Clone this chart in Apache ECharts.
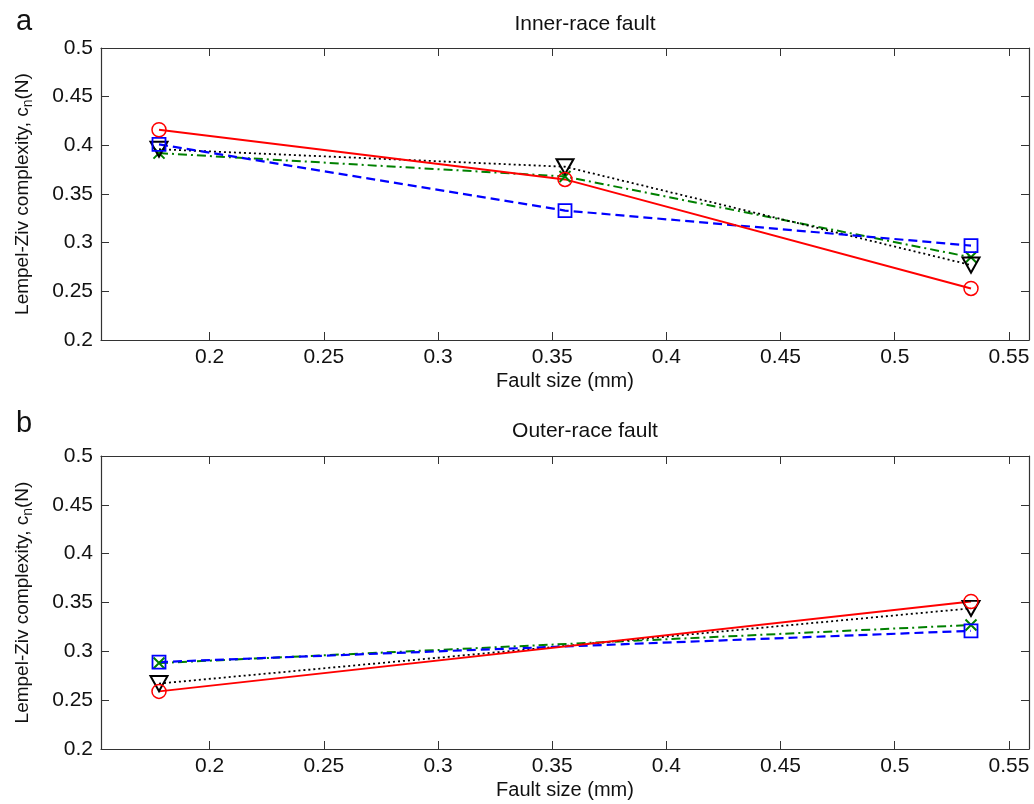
<!DOCTYPE html>
<html>
<head>
<meta charset="utf-8">
<script src="https://cdn.jsdelivr.net/npm/echarts@6/dist/echarts.min.js"></script>
<style>
  html, body { margin: 0; padding: 0; background: #fff; }
  #chart { width: 1034px; height: 804px; }
</style>
</head>
<body>
<div id="chart"></div>
<script>
// fault sizes (mm) and complexity values
const innerSizes = [0.1778, 0.3556, 0.5334]
const innerCircle = [0.416, 0.365, 0.253]
const innerSquare = [0.401, 0.333, 0.297]
const innerTriangle = [0.396, 0.378, 0.277]
const innerCross = [0.392, 0.368, 0.285]

const outerSizes = [0.1778, 0.5334]
const outerCircle = [0.259, 0.351]
const outerSquare = [0.289, 0.321]
const outerTriangle = [0.267, 0.344]
const outerCross = [0.288, 0.327]

const xTicks = [0.2, 0.25, 0.3, 0.35, 0.4, 0.45, 0.5, 0.55]
const titles = ['Inner-race fault', 'Outer-race fault']
const panelLetters = ['a', 'b']

const FONT = 'Liberation Sans, Arial, sans-serif'
const AXIS_COLOR = '#333'

const chart = echarts.init(document.getElementById('chart'))

const pair = (xs, ys) => xs.map((x, i) => [x, ys[i]])

const grids = [
  { left: 101, top: 48, width: 928, height: 292 },
  { left: 101, top: 456, width: 928, height: 293 }
]

const xAxes = []
const yAxes = []
grids.forEach((g, gi) => {
  const base = {
    gridIndex: gi,
    type: 'value',
    min: 0.1524,
    max: 0.5588,
    axisLine: { show: true, lineStyle: { color: AXIS_COLOR, width: 1.2 } },
    axisTick: { show: true, inside: true, length: 8, customValues: xTicks, lineStyle: { color: AXIS_COLOR } },
    splitLine: { show: false }
  }
  xAxes.push(Object.assign({}, base, {
    position: 'bottom',
    name: 'Fault size (mm)',
    nameLocation: 'middle',
    nameGap: 31,
    nameTextStyle: { fontFamily: FONT, fontSize: 20, color: '#111' },
    axisLabel: { customValues: xTicks, margin: 7, fontFamily: FONT, fontSize: 21, color: '#111' }
  }))
  xAxes.push(Object.assign({}, base, {
    position: 'top',
    axisLabel: { show: false }
  }))
  const ybase = {
    gridIndex: gi,
    type: 'value',
    min: 0.2,
    max: 0.5,
    interval: 0.05,
    axisLine: { show: true, lineStyle: { color: AXIS_COLOR, width: 1.2 } },
    axisTick: { show: true, inside: true, length: 8, lineStyle: { color: AXIS_COLOR } },
    splitLine: { show: false }
  }
  yAxes.push(Object.assign({}, ybase, {
    position: 'left',
    name: '{t|Lempel-Ziv complexity, c}{s|n}{t|(N)}',
    nameLocation: 'middle',
    nameGap: 66,
    nameTextStyle: {
      rich: {
        t: { fontFamily: FONT, fontSize: 19, color: '#111', lineHeight: 24 },
        s: { fontFamily: FONT, fontSize: 14, color: '#111', lineHeight: 24, padding: [10, 0, 0, 0] }
      }
    },
    axisLabel: { margin: 8, fontFamily: FONT, fontSize: 21, color: '#111' }
  }))
  yAxes.push(Object.assign({}, ybase, {
    position: 'right',
    axisLabel: { show: false }
  }))
})

const triPath = 'path://M0,0 L18,0 L9,16 Z'
const crossPath = 'path://M0,0 L10,10 M10,0 L0,10'

function makeSeries(gi, xs, circle, square, triangle, cross) {
  const xi = gi * 2
  const yi = gi * 2
  return [
    {
      type: 'line', xAxisIndex: xi, yAxisIndex: yi,
      data: pair(xs, cross),
      symbol: crossPath, symbolSize: [11, 11],
      lineStyle: { color: '#008000', width: 2, type: [9, 4, 2, 4] },
      itemStyle: { color: 'rgba(0,0,0,0)', borderColor: '#008000', borderWidth: 2 }
    },
    {
      type: 'line', xAxisIndex: xi, yAxisIndex: yi,
      data: pair(xs, triangle),
      symbol: triPath, symbolSize: [17, 15],
      lineStyle: { color: '#000', width: 1.8, type: [2, 3] },
      itemStyle: { color: 'rgba(0,0,0,0)', borderColor: '#000', borderWidth: 2 }
    },
    {
      type: 'line', xAxisIndex: xi, yAxisIndex: yi,
      data: pair(xs, square),
      symbol: 'rect', symbolSize: 13,
      lineStyle: { color: '#0000ff', width: 2.2, type: [9, 5] },
      itemStyle: { color: 'rgba(0,0,0,0)', borderColor: '#0000ff', borderWidth: 1.8 }
    },
    {
      type: 'line', xAxisIndex: xi, yAxisIndex: yi,
      data: pair(xs, circle),
      symbol: 'circle', symbolSize: 14,
      lineStyle: { color: '#ff0000', width: 2 },
      itemStyle: { color: 'rgba(0,0,0,0)', borderColor: '#ff0000', borderWidth: 1.5 }
    }
  ]
}

const series = [
  ...makeSeries(0, innerSizes, innerCircle, innerSquare, innerTriangle, innerCross),
  ...makeSeries(1, outerSizes, outerCircle, outerSquare, outerTriangle, outerCross)
].map(s => Object.assign(s, { animation: false, silent: true, z: 3 }))

chart.setOption({
  backgroundColor: '#fff',
  animation: false,
  title: [
    { text: titles[0], left: 580, top: 9, textAlign: 'center', textStyle: { fontFamily: FONT, fontSize: 21, fontWeight: 'normal', color: '#111' } },
    { text: titles[1], left: 580, top: 416, textAlign: 'center', textStyle: { fontFamily: FONT, fontSize: 21, fontWeight: 'normal', color: '#111' } },
    { text: panelLetters[0], left: 11, top: 2, textStyle: { fontFamily: FONT, fontSize: 29, fontWeight: 'normal', color: '#111' } },
    { text: panelLetters[1], left: 11, top: 404, textStyle: { fontFamily: FONT, fontSize: 29, fontWeight: 'normal', color: '#111' } }
  ],
  grid: grids,
  xAxis: xAxes,
  yAxis: yAxes,
  series: series
})
</script>
</body>
</html>
